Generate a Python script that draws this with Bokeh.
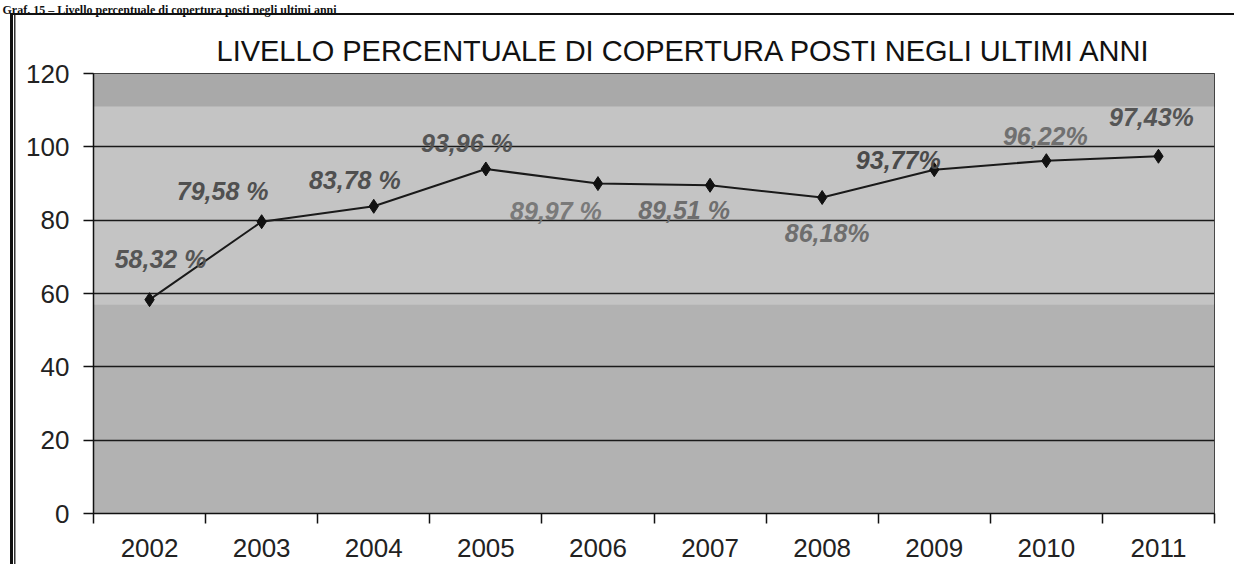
from bokeh.plotting import figure
from bokeh.models import (ColumnDataSource, Range1d, FixedTicker, BoxAnnotation, Title)
from bokeh.core.properties import value
from bokeh.embed import file_html
from bokeh.resources import INLINE

# ---- data ----
years = [2002, 2003, 2004, 2005, 2006, 2007, 2008, 2009, 2010, 2011]
coverage = [58.32, 79.58, 83.78, 93.96, 89.97, 89.51, 86.18, 93.77, 96.22, 97.43]
point_labels = ["58,32 %", "79,58 %", "83,78 %", "93,96 %", "89,97 %",
                "89,51 %", "86,18%", "93,77%", "96,22%", "97,43%"]
y_ticks = [0, 20, 40, 60, 80, 100, 120]
title_text = "LIVELLO PERCENTUALE DI COPERTURA POSTI NEGLI ULTIMI ANNI"
caption_text = "Graf. 15 \u2013 Livello percentuale di copertura posti negli ultimi anni"

# ---- label layout / style (pixels) ----
label_dx = [11, -39, -19, -19, -42, -26, 5, -36, -1, -7]
label_dy = [-41, -31, -26, -26, 27, 25, 35, -10, -25, -39]
label_colors = ["#555555", "#505050", "#505050", "#555555", "#7a7a7a",
                "#6e6e6e", "#6e6e6e", "#4a4a4a", "#707070", "#555555"]

FONT = "Liberation Sans"

p = figure(width=1234, height=564, output_backend="svg", toolbar_location=None,
           x_range=Range1d(years[0] - 0.5, years[-1] + 0.5),
           y_range=Range1d(0, 120),
           min_border_left=93, min_border_right=20,
           min_border_top=73, min_border_bottom=51)
p.background_fill_color = "#c4c4c4"
p.border_fill_color = None
p.outline_line_color = "#222222"
p.outline_line_width = 1

# outer report frame: double line on the left, single line on top (CSS background)
p.styles = {
    "background-color": "white",
    "background-image": "linear-gradient(#111,#111), linear-gradient(#111,#111), linear-gradient(#333,#333)",
    "background-position": "10px 13px, 10px 13px, 14px 13px",
    "background-size": "1300px 2px, 3px 700px, 1.5px 700px",
    "background-repeat": "no-repeat, no-repeat, no-repeat",
}

# background bands
for b, t, c in [(0, 57, "#b2b2b2"), (57, 111, "#c4c4c4"), (111, 120, "#a9a9a9")]:
    p.add_layout(BoxAnnotation(bottom=b, top=t, fill_color=c, fill_alpha=1,
                               line_alpha=0, level="image"))

# axes
p.xaxis.ticker = FixedTicker(ticks=years,
                             minor_ticks=[y - 0.5 for y in years] + [years[-1] + 0.5])
p.xaxis.major_tick_out = 0
p.xaxis.major_tick_in = 0
p.xaxis.minor_tick_out = 10
p.xaxis.minor_tick_in = 0
p.xaxis.minor_tick_line_color = "#111111"
p.xaxis.minor_tick_line_width = 1.5
p.xaxis.major_label_standoff = 15
p.yaxis.ticker = FixedTicker(ticks=y_ticks)
p.yaxis.minor_tick_line_color = None
p.yaxis.major_tick_out = 10
p.yaxis.major_tick_in = 0
p.yaxis.major_label_standoff = 14
for ax in (p.xaxis, p.yaxis):
    ax.axis_line_color = "#111111"
    ax.axis_line_width = 1.5
    ax.major_tick_line_color = "#111111"
    ax.major_tick_line_width = 1.5
    ax.major_label_text_font = FONT
    ax.major_label_text_font_size = "26px"
    ax.major_label_text_color = "#222222"

p.xgrid.grid_line_color = None
p.ygrid.grid_line_color = "#1a1a1a"
p.ygrid.grid_line_width = 1.3

# series
src = ColumnDataSource(dict(x=years, y=coverage, lab=point_labels,
                            dx=label_dx, dy=label_dy, col=label_colors))
p.line("x", "y", source=src, line_color="#1a1a1a", line_width=2)
p.scatter("x", "y", source=src, marker="diamond", size=14,
          fill_color="#111111", line_color="#111111")
p.text("x", "y", text="lab", source=src, x_offset="dx", y_offset="dy",
       text_color="col", text_font=value(FONT), text_font_size="25px",
       text_font_style="bold italic", text_align="center", text_baseline="middle")

# report caption (outermost title, top-left)
p.title.text = caption_text
p.title.align = "left"
p.title.offset = -91
p.title.text_font = "Liberation Serif"
p.title.text_font_size = "12px"
p.title.text_font_style = "bold"
p.title.text_color = "#111111"
p.title.standoff = 0

# chart title (next to the plot area)
p.add_layout(Title(text=title_text, align="left", offset=123,
                   text_font=FONT, text_font_size="29px", text_font_style="normal",
                   text_color="#111111", standoff=14), "above")
# blank spacer between chart title and report caption
p.add_layout(Title(text=" ", text_font_size="1px", standoff=6), "above")

open("out.html", "w").write(file_html(p, INLINE))
